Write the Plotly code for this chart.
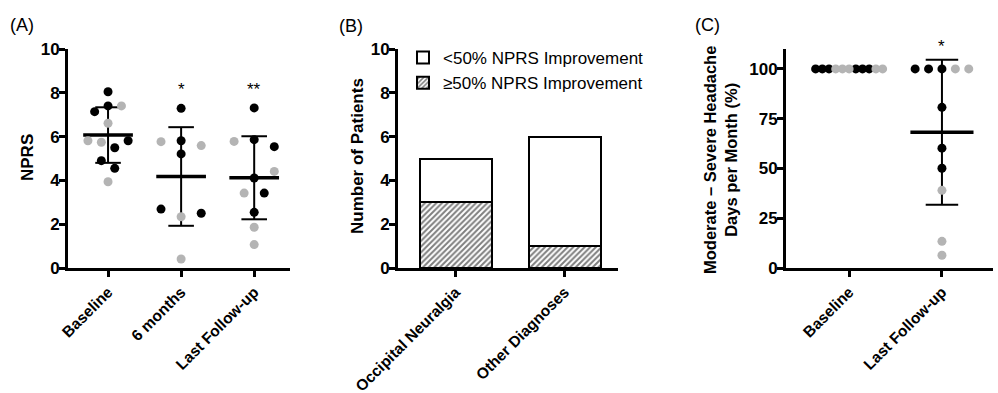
import numpy as np
import plotly.graph_objects as go

FONT = "Liberation Sans, Arial, Helvetica, sans-serif"
BLACK = "#000000"
GRAY = "#b4b4b4"
W, H = 998, 393

# ---------------- Panel A data ----------------
a_categories = ["Baseline", "6 months", "Last Follow-up"]
a_baseline = [8.05, 7.14, 7.40, 7.40, 6.61, 5.81, 5.74, 5.81, 5.49, 4.90, 4.55, 3.94]
a_baseline_group = ["k", "k", "k", "g", "g", "g", "g", "k", "k", "k", "k", "g"]
a_baseline_slot = [0, -2, 0, 2, 0, -3, -1, 3, 1, -1, 1, 0]
a_6m = [7.29, 5.77, 5.81, 5.59, 5.21, 2.69, 2.50, 2.34, 0.41]
a_6m_group = ["k", "g", "k", "g", "k", "k", "k", "g", "g"]
a_6m_slot = [0, -3, 0, 3, 0, -3, 3, 0, 0]
a_last = [7.31, 5.78, 5.86, 5.54, 4.41, 4.11, 3.42, 3.42, 2.54, 1.86, 1.07]
a_last_group = ["k", "g", "k", "k", "g", "k", "g", "k", "k", "g", "g"]
a_last_slot = [0, -3, 0, 3, 3, 0, -1.5, 1.5, 0, 0, 0]
a_sig = ["", "*", "**"]
a_yticks = [0, 2, 4, 6, 8, 10]

# ---------------- Panel B data ----------------
b_categories = ["Occipital Neuralgia", "Other Diagnoses"]
b_ge50 = [3, 1]
b_lt50 = [2, 5]
b_yticks = [0, 2, 4, 6, 8, 10]

# ---------------- Panel C data ----------------
c_categories = ["Baseline", "Last Follow-up"]
c_baseline = [100, 100, 100, 100, 100, 100, 100, 100, 100, 100, 100]
c_baseline_group = ["k", "k", "k", "g", "g", "g", "k", "k", "k", "g", "g"]
c_baseline_slot = [-5, -4, -3, -2, -1, 0, 1, 2, 3, 4, 5]
c_last = [100, 100, 100, 100, 100, 80.7, 60.2, 50.1, 39.0, 13.4, 6.4]
c_last_group = ["k", "k", "k", "g", "g", "k", "k", "k", "g", "g", "g"]
c_last_slot = [-4, -2, 0, 2, 4, 0, 0, 0, 0, 0, 0]
c_sig = ["", "*"]
c_yticks = [0, 25, 50, 75, 100]

# ---------------- Geometry (pixels) ----------------
PLOT_TOP, PLOT_BOT = 49, 268
A_X = (68, 290); A_RANGE = [-0.548, 2.49]
B_X = (398, 618); B_RANGE = [-0.53, 1.49]
C_X = (786, 993); C_RANGE = [-0.68, 1.55]
SLOT_PX = 6.7
MEAN_HALF = 0.34
CAP_HALF = 0.175
MSIZE = 9


def px_per_unit(xpx, rng):
    return (xpx[1] - xpx[0]) / (rng[1] - rng[0])


fig = go.Figure()


def add_column(xi, vals, groups, slots, xa, ya, unit):
    vals = np.asarray(vals, dtype=float)
    m = vals.mean()
    sd = vals.std(ddof=1)
    fig.add_trace(go.Scatter(x=[xi - MEAN_HALF, xi + MEAN_HALF], y=[m, m], mode="lines",
                             line=dict(color=BLACK, width=3.5), xaxis=xa, yaxis=ya,
                             showlegend=False, hoverinfo="skip"))
    fig.add_trace(go.Scatter(
        x=[xi, xi, None, xi - CAP_HALF, xi + CAP_HALF, None, xi - CAP_HALF, xi + CAP_HALF],
        y=[m - sd, m + sd, None, m + sd, m + sd, None, m - sd, m - sd],
        mode="lines", line=dict(color=BLACK, width=2), xaxis=xa, yaxis=ya,
        showlegend=False, hoverinfo="skip"))
    for g, col in (("k", BLACK), ("g", GRAY)):
        xs = [xi + s * unit for s, gg in zip(slots, groups) if gg == g]
        ys = [v for v, gg in zip(vals, groups) if gg == g]
        fig.add_trace(go.Scatter(x=xs, y=ys, mode="markers",
                                 marker=dict(color=col, size=MSIZE, line=dict(width=0)),
                                 xaxis=xa, yaxis=ya, showlegend=False, cliponaxis=False))


# Panel A
ua = SLOT_PX / px_per_unit(A_X, A_RANGE)
for i, (v, g, s) in enumerate([(a_baseline, a_baseline_group, a_baseline_slot),
                               (a_6m, a_6m_group, a_6m_slot),
                               (a_last, a_last_group, a_last_slot)]):
    add_column(i, v, g, s, "x", "y", ua)

# Panel B
fig.add_trace(go.Bar(x=[0, 1], y=b_ge50, width=0.66, name="≥50% NPRS Improvement",
                     marker=dict(color="white", line=dict(color=BLACK, width=2),
                                 pattern=dict(shape="/", size=4, solidity=0.5, fgcolor=BLACK,
                                              bgcolor="white")),
                     xaxis="x2", yaxis="y2", showlegend=True))
fig.add_trace(go.Bar(x=[0, 1], y=b_lt50, width=0.66, name="<50% NPRS Improvement",
                     marker=dict(color="white", line=dict(color=BLACK, width=2)),
                     xaxis="x2", yaxis="y2", showlegend=True))

# Panel C
uc = SLOT_PX / px_per_unit(C_X, C_RANGE)
for i, (v, g, s) in enumerate([(c_baseline, c_baseline_group, c_baseline_slot),
                               (c_last, c_last_group, c_last_slot)]):
    add_column(i, v, g, s, "x3", "y3", uc)


def dom_x(xpx):
    return [xpx[0] / W, xpx[1] / W]


ydom = [1 - PLOT_BOT / H, 1 - PLOT_TOP / H]

tickfont = dict(family=FONT, size=15.5, color=BLACK, weight="bold")


def xaxis(xpx, rng, anchor, cats):
    return dict(domain=dom_x(xpx), range=rng, anchor=anchor, showline=True, linewidth=3,
                linecolor=BLACK, showgrid=False, zeroline=False, ticks="outside", ticklen=6,
                tickwidth=3, tickcolor=BLACK, tickvals=list(range(len(cats))), ticktext=cats,
                tickangle=-45, tickfont=tickfont, fixedrange=True, automargin=False)


def yaxis(rng, anchor, ticks):
    return dict(domain=ydom, range=rng, anchor=anchor, showline=True, linewidth=3,
                linecolor=BLACK, showgrid=False, zeroline=False, ticks="outside", ticklen=6,
                tickwidth=3, tickcolor=BLACK, tickvals=ticks,
                tickfont=dict(family=FONT, size=17, color=BLACK, weight="bold"),
                ticklabelstandoff=-4, fixedrange=True, automargin=False)


annotations = []


def ann(text, xpx, ypx, size, bold=False, angle=0):
    annotations.append(dict(text=text, x=xpx / W, y=1 - ypx / H, xref="paper", yref="paper",
                            xanchor="center", yanchor="middle", showarrow=False, textangle=angle,
                            font=dict(family=FONT, size=size, color=BLACK,
                                      weight="bold" if bold else "normal")))


ann("(A)", 22, 25, 18)
ann("(B)", 351, 26, 18)
ann("(C)", 707, 25, 18)
ann("NPRS", 28, 158, 17, bold=True, angle=-90)
ann("Number of Patients", 357, 156, 17, bold=True, angle=-90)
ann("Moderate – Severe Headache<br>Days per Month (%)", 720, 160, 16.5, bold=True, angle=-90)

for i, s in enumerate(a_sig):
    if s:
        annotations.append(dict(text=s, x=i, xref="x", y=1 - 90 / H, yref="paper",
                                xanchor="center", yanchor="middle", showarrow=False,
                                font=dict(family=FONT, size=17, color=BLACK)))
for i, s in enumerate(c_sig):
    if s:
        annotations.append(dict(text=s, x=i, xref="x3", y=1 - 46 / H, yref="paper",
                                xanchor="center", yanchor="middle", showarrow=False,
                                font=dict(family=FONT, size=17, color=BLACK)))

fig.update_layout(
    width=W, height=H, margin=dict(l=0, r=0, t=0, b=0, pad=0, autoexpand=False),
    paper_bgcolor="white", plot_bgcolor="white",
    barmode="stack",
    font=dict(family=FONT, color=BLACK),
    xaxis=xaxis(A_X, A_RANGE, "y", a_categories),
    yaxis=yaxis([0, 10], "x", a_yticks),
    xaxis2=xaxis(B_X, B_RANGE, "y2", b_categories),
    yaxis2=yaxis([0, 10], "x2", b_yticks),
    xaxis3=xaxis(C_X, C_RANGE, "y3", c_categories),
    yaxis3=yaxis([0, 110], "x3", c_yticks),
    legend=dict(x=403 / W, y=1 - 40 / H, xanchor="left", yanchor="top",
                font=dict(family=FONT, size=17, color=BLACK), traceorder="reversed",
                bgcolor="rgba(0,0,0,0)", borderwidth=0, itemclick=False, itemdoubleclick=False,
                tracegroupgap=0),
    annotations=annotations,
    showlegend=True,
)

fig.write_html("out.html", config={"displayModeBar": False},
               post_script="document.body.style.margin='0px';document.body.style.overflow='hidden';")
